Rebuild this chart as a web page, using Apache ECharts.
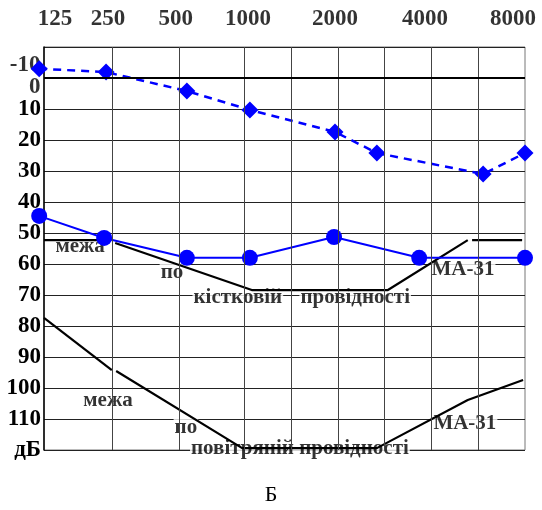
<!DOCTYPE html>
<html lang="uk">
<head>
    <meta charset="UTF-8">
    <title>Аудіограма Б</title>
    <script src="https://cdn.jsdelivr.net/npm/echarts@6/dist/echarts.min.js"></script>
    <style>
        html, body { margin: 0; padding: 0; background: #fff; }
        #chart { width: 542px; height: 510px; }
    </style>
</head>
<body>
<div id="chart"></div>
<script>
    // x - position across the form (0 = left border, 100 = right border), y - dB
    const freqLabels = ['125', '250', '500', '1000', '2000', '4000', '8000'];
    const freqLabelPos = [2.3, 13.3, 27.4, 42.4, 60.5, 79.2, 97.5];
    const gridLinesX = [14.1, 28.1, 41.6, 51.4, 61.1, 70.7, 80.5, 90.2];
    // the two upper dB labels sit a little below their lines on the form
    const topDbLabels = ['-10', '0'];
    const topDbLabelPos = [-4.2, 2.9];

    // dashed curve with diamonds
    const diamondX = [-1.0, 12.9, 29.7, 42.8, 60.5, 69.2, 91.3, 100];
    const diamondDb = [-3, -1.9, 4.2, 10.3, 17.4, 24.2, 31.0, 24.2];

    // solid curve with circles
    const circleX = [-1.0, 12.5, 29.7, 42.8, 60.3, 78.0, 100];
    const circleDb = [44.5, 51.6, 58, 58, 51.3, 58, 58];

    // limit of bone conduction (МА-31), pieces of line
    const boneLimitSegs = [
        [[0, 52.3], [13.3, 52.3]],
        [[14.8, 53.2], [43.2, 68.4], [71.5, 68.4], [88.1, 52.3]],
        [[89.0, 52.3], [99.4, 52.3]]
    ];
    // limit of air conduction (МА-31)
    const airLimitSegs = [
        [[0, 77.4], [14.1, 94.2]],
        [[15.0, 94.5], [41.2, 119.4], [69.2, 119.4], [88.1, 103.9], [99.6, 97.4]]
    ];

    const notes = [
        ['межа', 7.5, 54.5],
        ['по', 26.6, 62.9],
        ['кістковій', 40.3, 70.8],
        ['провідності', 64.7, 70.8],
        ['МА-31', 87.1, 61.9],
        ['межа', 13.3, 104.2],
        ['по', 29.5, 112.9],
        ['повітряній провідності', 53.2, 119.7],
        ['МА-31', 87.5, 111.6]
    ];

    const serif = 'Liberation Serif';
    const chart = echarts.init(document.getElementById('chart'));

    const limitSeries = [];
    boneLimitSegs.concat(airLimitSegs).forEach(seg => {
        limitSeries.push({
            type: 'line',
            data: seg,
            symbol: 'none',
            clip: false,
            z: 3,
            lineStyle: {color: '#000', width: 2.2}
        });
    });

    const option = {
        animation: false,
        title: {
            text: 'Б',
            left: 'center',
            top: 484,
            padding: 0,
            textStyle: {fontFamily: serif, fontWeight: 'normal', fontSize: 22, color: '#000'}
        },
        grid: {left: 44, right: 17, top: 47, bottom: 60, show: true, borderColor: '#777', borderWidth: 1},
        xAxis: {
            type: 'value', min: 0, max: 100,
            axisLine: {show: false}, axisTick: {show: false},
            axisLabel: {show: false}, splitLine: {show: false}
        },
        yAxis: {
            type: 'value', min: -10, max: 120, interval: 10, inverse: true,
            axisLine: {show: true, lineStyle: {color: '#000', width: 1.5}},
            axisTick: {show: false},
            splitLine: {show: true, lineStyle: {color: '#222', width: 1}},
            axisLabel: {
                margin: 3,
                showMaxLabel: true,
                fontFamily: serif, fontWeight: 'bold', fontSize: 23, color: '#000',
                formatter: function (v) {
                    if (v === 120) return 'дБ';
                    if (v <= 0) return '';
                    return String(v);
                }
            }
        },
        series: [
            {
                // vertical grid and the thick 0 dB line
                type: 'line',
                data: [],
                z: 1,
                markLine: {
                    silent: true,
                    symbol: ['none', 'none'],
                    label: {show: false},
                    lineStyle: {color: '#444', width: 1, type: 'solid'},
                    data: gridLinesX.map(v => ({xAxis: v})).concat([
                        {yAxis: 0, lineStyle: {color: '#000', width: 2}}
                    ])
                }
            },
            {
                // frequency labels above the form
                type: 'scatter',
                symbolSize: 1,
                itemStyle: {color: 'transparent'},
                data: freqLabelPos.map((p, i) => ({name: freqLabels[i], value: [p, -10]})),
                label: {
                    show: true, position: 'inside', offset: [0, -28],
                    formatter: '{b}',
                    fontFamily: serif, fontWeight: 'bold', fontSize: 23, color: '#000'
                },
                z: 2
            },
            {
                // -10 and 0 labels on the left
                type: 'scatter',
                symbolSize: 1,
                itemStyle: {color: 'transparent'},
                clip: false,
                data: topDbLabelPos.map((p, i) => ({name: topDbLabels[i], value: [0, p]})),
                label: {
                    show: true, position: 'left', distance: 3,
                    formatter: '{b}',
                    fontFamily: serif, fontWeight: 'bold', fontSize: 23, color: '#000'
                },
                z: 2
            },
            {
                type: 'scatter',
                symbolSize: 1,
                itemStyle: {color: 'transparent'},
                clip: false,
                data: notes.map(n => ({name: n[0], value: [n[1], n[2]]})),
                label: {
                    show: true, position: 'inside',
                    formatter: '{b}',
                    fontFamily: serif, fontWeight: 'bold', fontSize: 21, color: '#000',
                    backgroundColor: '#fff', padding: [0, 1]
                },
                z: 2
            }
        ].concat(limitSeries).concat([
            {
                type: 'line',
                data: diamondX.map((x, i) => [x, diamondDb[i]]),
                symbol: 'diamond',
                symbolSize: 17,
                clip: false,
                z: 4,
                itemStyle: {color: '#0000ff'},
                lineStyle: {color: '#0000ff', width: 2.5, type: [8, 6]}
            },
            {
                type: 'line',
                data: circleX.map((x, i) => [x, circleDb[i]]),
                symbol: 'circle',
                symbolSize: 16,
                clip: false,
                z: 4,
                itemStyle: {color: '#0000ff'},
                lineStyle: {color: '#0000ff', width: 2}
            }
        ])
    };

    chart.setOption(option);
</script>
</body>
</html>
